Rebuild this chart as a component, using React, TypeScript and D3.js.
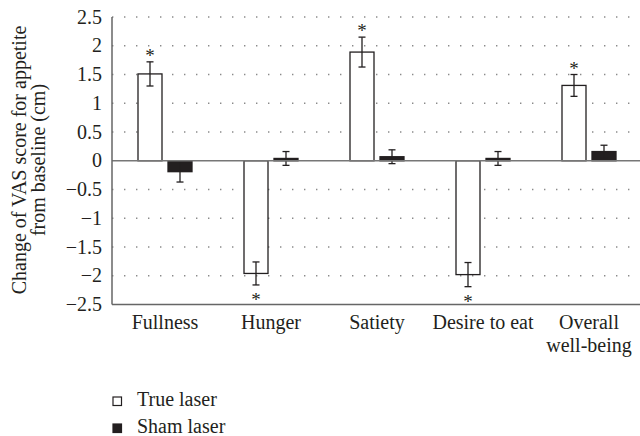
import React from 'react';
import * as d3 from 'd3';

const categories = ['Fullness', 'Hunger', 'Satiety', 'Desire to eat', 'Overall well-being'];
const series = ['True laser', 'Sham laser'];
const trueLaser = [1.51, -1.96, 1.89, -1.98, 1.31];
const trueLaserErr = [0.21, 0.2, 0.26, 0.21, 0.19];
const shamLaser = [-0.19, 0.04, 0.07, 0.04, 0.16];
const shamLaserErr = [0.18, 0.12, 0.12, 0.12, 0.11];
const significant = [true, true, true, true, true];
const yTicks = [-2.5, -2, -1.5, -1, -0.5, 0, 0.5, 1, 1.5, 2, 2.5];

const W = 640;
const H = 436;
const left = 112;
const right = 642;
const top = 17;
const bottom = 304.5;
const font = "'Liberation Serif', 'DejaVu Serif', serif";
const ink = '#231f20';
const fs = 20;

const App = () => {
	const y = d3.scaleLinear().domain([-2.5, 2.5]).range([bottom, top]);
	const x = d3.scaleBand().domain(categories).range([left, right]);
	const xs = d3.scaleBand().domain(series).range([26, 80]).paddingInner(0.2);
	const fmt = d3.format('');

	const bars = categories.map((c, i) => [
		{ key: series[0], v: trueLaser[i], e: trueLaserErr[i], fill: '#fff' },
		{ key: series[1], v: shamLaser[i], e: shamLaserErr[i], fill: ink }
	]);

	return (
		<div style={{ position: 'absolute', left: 0, top: 0 }}>
			<svg width={W} height={H} style={{ display: 'block', fontFamily: font }}>
				{/* grid */}
				{yTicks.filter(t => t !== 0 && t !== -2.5).map(t => (
					<line key={'g' + t} x1={left} x2={W} y1={y(t)} y2={y(t)}
						stroke="#8a8a8a" strokeWidth={1.4} strokeDasharray="1.4 10.6" />
				))}
				{yTicks.map(t => (
					<text key={'t' + t} x={102} y={y(t)} dy="0.33em" textAnchor="end"
						fontSize={fs} fill={ink}>{fmt(t)}</text>
				))}

				{/* bars */}
				{bars.map((grp, i) => grp.map(b => {
					const bx = x(categories[i])! + xs(b.key)!;
					const cx = bx + xs.bandwidth() / 2;
					const y0 = y(0), y1 = y(b.v);
					return (
						<g key={categories[i] + b.key}>
							<rect x={bx} y={Math.min(y0, y1)} width={xs.bandwidth()} height={Math.abs(y1 - y0)}
								fill={b.fill} stroke={ink} strokeWidth={1.3} />
							<line x1={cx} x2={cx} y1={y(b.v + b.e)} y2={y(b.v - b.e)} stroke={ink} strokeWidth={1.3} />
							<line x1={cx - 3.5} x2={cx + 3.5} y1={y(b.v + b.e)} y2={y(b.v + b.e)} stroke={ink} strokeWidth={1.3} />
							<line x1={cx - 3.5} x2={cx + 3.5} y1={y(b.v - b.e)} y2={y(b.v - b.e)} stroke={ink} strokeWidth={1.3} />
							{b.key === series[0] && significant[i] && (
								<text x={cx} y={b.v > 0 ? y(b.v + b.e) : y(b.v - b.e) + 21}
									textAnchor="middle" fontSize={19} fill={ink}>*</text>
							)}
						</g>
					);
				}))}

				{/* axes */}
				<line x1={left} x2={W} y1={y(0)} y2={y(0)} stroke="#777" strokeWidth={1.3} />
				<line x1={left} x2={left} y1={top} y2={bottom} stroke="#666" strokeWidth={1.5} />
				<line x1={left} x2={W} y1={bottom} y2={bottom} stroke="#666" strokeWidth={1.5} />

				{categories.map(c => {
					const cx = x(c)! + x.bandwidth() / 2;
					const lines = c === 'Overall well-being' ? ['Overall', 'well-being'] : [c];
					return (
						<text key={c} x={cx} y={329} textAnchor="middle" fontSize={fs} fill={ink}>
							{lines.map((l, k) => <tspan key={l} x={cx} dy={k ? 23 : 0}>{l}</tspan>)}
						</text>
					);
				})}

				<text transform="translate(26,160) rotate(-90)" textAnchor="middle"
					fontSize={fs} fill={ink}>
					<tspan x={0} dy={0}>Change of VAS score for appetite</tspan>
					<tspan x={0} dy={18.5}>from baseline (cm)</tspan>
				</text>

				{/* legend */}
				{series.map((s, i) => (
					<g key={s} transform={`translate(112,${397 + i * 27})`}>
						<rect x={1} y={0} width={8.5} height={8.5} fill={i ? ink : '#fff'} stroke={ink} strokeWidth={1.2} />
						<text x={25} y={9} fontSize={fs} fill={ink}>{s}</text>
					</g>
				))}
			</svg>
		</div>
	);
};

export default App;
